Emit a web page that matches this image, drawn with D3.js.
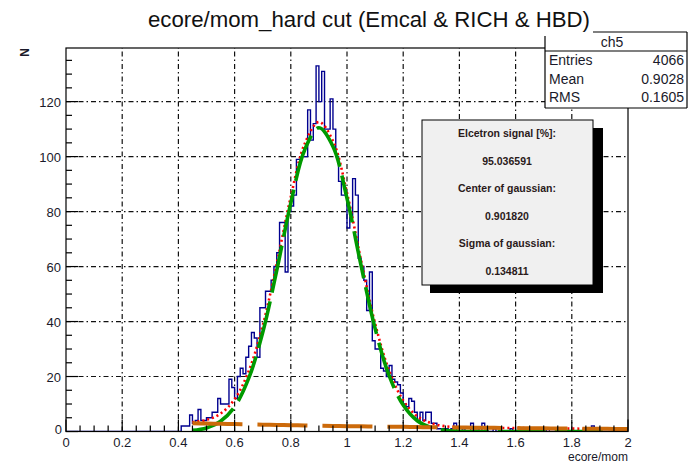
<!DOCTYPE html>
<html><head><meta charset="utf-8">
<script src="https://cdn.jsdelivr.net/npm/d3@7"></script>
<style>
body{margin:0;background:#fff;}
svg{display:block;font-family:"Liberation Sans",Arial,sans-serif;}
</style></head>
<body><svg id="c" width="692" height="464"></svg>
<script>
// ---- data ----
const binStart = 0.40;
const binWidth = 0.01;
const counts = [
 0,2,2,2,6,3,4,8,4,4,            // 0.40-0.49
 5,5,7,7,12,10,10,10,19,16,      // 0.50-0.59
 12,20,23,21,27,31,36,34,27,45,  // 0.60-0.69
 45,51,51,55,60,65,76,76,58,80,  // 0.70-0.79
 82,86,99,99,100,100,117,106,112,133, // 0.80-0.89
 120,131,110,110,121,110,100,91,86,86, // 0.90-0.99
 74,78,92,86,63,60,55,44,58,33,  // 1.00-1.09
 30,30,23,22,20,24,19,18,17,14,  // 1.10-1.19
 10,9,12,11,7,4,7,4,7,7,         // 1.20-1.29
 3,3,1,1,1,1,0,1,3,0,            // 1.30-1.39
 0,1,0,0,3,1,1,0,3,1,            // 1.40-1.49
 0,0,1,0,0,0,0,0,1,0,            // 1.50-1.59
 0,0,0,0,1,0,0,0,0,0,            // 1.60-1.69
 0,1,0,0,0,0,0,1,0,0,            // 1.70-1.79
 0,0,0,0,0,0,0,2,0,0,            // 1.80-1.89
 0,0,0,0,0,0,0,0,0,0             // 1.90-1.99
];
const fitX = [0.45,0.50,0.55,0.60,0.65,0.70,0.75,0.80,0.85,0.90,0.95,1.00,1.05,1.10,1.15,1.20,1.25,1.30,1.35,1.40,1.45,1.50,1.55,1.60,1.65,1.70,1.75,1.80,1.85,1.90,1.95,2.00];
const gaussY = [0.4,1.3,3.7,9.0,19.3,36.0,58.6,83.1,102.6,110.5,103.7,84.8,60.4,37.5,20.3,9.6,3.9,1.4,0.4,0.1,0,0,0,0,0,0,0,0,0,0,0,0];
const bgY = [3.0,2.9,2.8,2.7,2.6,2.5,2.4,2.3,2.2,2.1,2.0,1.95,1.9,1.8,1.75,1.7,1.6,1.55,1.5,1.45,1.4,1.35,1.3,1.25,1.2,1.15,1.1,1.05,1.0,1.0,0.95,0.9];
const totalY = [3.4,4.2,6.5,11.7,21.9,38.5,61.0,85.4,104.8,112.6,105.7,86.8,62.3,39.3,22.1,11.3,5.5,3.0,1.9,1.6,1.4,1.35,1.3,1.25,1.2,1.15,1.1,1.05,1.0,1.0,0.95,0.9];
const xTicks = [0,0.2,0.4,0.6,0.8,1,1.2,1.4,1.6,1.8,2];
const yTicks = [0,20,40,60,80,100,120];
const titleText = "ecore/mom_hard cut (Emcal & RICH & HBD)";
const statsName = "ch5";
const statsRows = [["Entries","4066"],["Mean","0.9028"],["RMS","0.1605"]];
const fitLines = ["Elcetron signal [%]:","95.036591","Center of gaussian:","0.901820","Sigma of gaussian:","0.134811"];

// ---- layout ----
const L=66,R=628,T=48,B=431.5;
const svg=d3.select("#c");
const x=d3.scaleLinear().domain([0,2]).range([L,R]);
const y=d3.scaleLinear().domain([0,139.5]).range([B,T]);

svg.append("defs").append("clipPath").attr("id","clip")
  .append("rect").attr("x",L).attr("y",T).attr("width",R-L).attr("height",B-T);

// grid
const grid=svg.append("g").attr("stroke","#111").attr("stroke-width",1.2).attr("stroke-dasharray","5,3,1.5,3");
xTicks.slice(1,-1).forEach(v=>grid.append("line").attr("x1",x(v)).attr("x2",x(v)).attr("y1",B).attr("y2",T));
yTicks.slice(1).forEach(v=>grid.append("line").attr("x1",L).attr("x2",R).attr("y1",y(v)).attr("y2",y(v)));

// histogram step outline
const pts=[];
const nb=Math.round(2/binWidth);
for(let i=0;i<nb;i++){
  const lo=i*binWidth;
  const idx=Math.round((lo-binStart)/binWidth);
  const c=(idx>=0&&idx<counts.length)?counts[idx]:0;
  pts.push([lo,c]);
}
pts.push([2,0]);
const step=d3.line().x(d=>x(d[0])).y(d=>y(d[1])).curve(d3.curveStepAfter);
const plot=svg.append("g").attr("clip-path","url(#clip)");
plot.append("path").attr("d",step(pts)).attr("fill","none").attr("stroke","#00008f").attr("stroke-width",1.4);

// fit curves
const mk=(ys)=>d3.line().x((d,i)=>x(fitX[i])).y(d=>y(d)).curve(d3.curveCatmullRom.alpha(0.5))(ys);
plot.append("path").attr("d",mk(totalY)).attr("fill","none").attr("stroke","#ff0000").attr("stroke-width",2.6).attr("stroke-dasharray","2,3");
plot.append("path").attr("d",mk(gaussY)).attr("fill","none").attr("stroke","#009a00").attr("stroke-width",3.6).attr("stroke-dasharray","48,9");
plot.append("path").attr("d",mk(bgY)).attr("fill","none").attr("stroke","#cc6a0a").attr("stroke-width",4).attr("stroke-dasharray","50,15");

// frame
svg.append("rect").attr("x",L).attr("y",T).attr("width",R-L).attr("height",B-T).attr("fill","none").attr("stroke","#000").attr("stroke-width",1.2);

// axis ticks
const ax=svg.append("g").attr("stroke","#000").attr("stroke-width",1.2);
for(let k=0;k<=40;k++){
  const v=k*0.05; const major=(k%4===0);
  ax.append("line").attr("x1",x(v)).attr("x2",x(v)).attr("y1",B).attr("y2",B-(major?12:6));
}
for(let k=0;k<=27;k++){
  const v=k*5; const major=(k%4===0);
  ax.append("line").attr("x1",L).attr("x2",L+(major?12:6)).attr("y1",y(v)).attr("y2",y(v));
}
// tick labels
svg.append("g").selectAll("text").data(xTicks).join("text")
  .attr("x",d=>x(d)).attr("y",447).attr("text-anchor","middle").attr("font-size",13).attr("fill","#1a1a2a")
  .text(d=>d3.format("~g")(d));
svg.append("g").selectAll("text").data(yTicks).join("text")
  .attr("x",d=>d===0?62:61).attr("y",d=>y(d)+ (d===0?2:5)).attr("text-anchor","end").attr("font-size",13).attr("fill","#1a1a2a")
  .text(d=>d);
svg.append("text").attr("x",628).attr("y",461).attr("text-anchor","end").attr("font-size",12).attr("fill","#1a1a2a").text("ecore/mom");
svg.append("text").attr("transform","translate(29,48) rotate(-90)").attr("text-anchor","end").attr("font-size",12).attr("font-weight","bold").attr("fill","#1a1a2a").text("N");

// stats box
const sb=svg.append("g");
sb.append("rect").attr("x",545).attr("y",32).attr("width",142).attr("height",76).attr("fill","#fff").attr("stroke","none");
sb.append("line").attr("x1",593).attr("x2",687).attr("y1",32).attr("y2",32).attr("stroke","#000").attr("stroke-width",1.2);
sb.append("line").attr("x1",545).attr("x2",545).attr("y1",36).attr("y2",108).attr("stroke","#000").attr("stroke-width",1.2);
sb.append("line").attr("x1",687).attr("x2",687).attr("y1",32).attr("y2",108).attr("stroke","#000").attr("stroke-width",1.2);
sb.append("line").attr("x1",545).attr("x2",687).attr("y1",108).attr("y2",108).attr("stroke","#000").attr("stroke-width",1.2);
sb.append("line").attr("x1",545).attr("x2",687).attr("y1",51).attr("y2",51).attr("stroke","#000").attr("stroke-width",1.2);
sb.append("text").attr("x",612).attr("y",47).attr("text-anchor","middle").attr("font-size",14).attr("fill","#1a1a2a").text(statsName);
statsRows.forEach((r,i)=>{
  const yy=65+i*18.5;
  sb.append("text").attr("x",549).attr("y",yy).attr("font-size",14).attr("fill","#1a1a2a").text(r[0]);
  sb.append("text").attr("x",684).attr("y",yy).attr("text-anchor","end").attr("font-size",14).attr("fill","#1a1a2a").text(r[1]);
});
// title
svg.append("text").attr("x",369).attr("y",27).attr("text-anchor","middle").attr("font-size",22).attr("fill","#111")
  .attr("textLength",442).attr("lengthAdjust","spacingAndGlyphs").text(titleText);

// fit text box
const tb=svg.append("g");
tb.append("rect").attr("x",430).attr("y",128).attr("width",173).attr("height",165).attr("fill","#000");
tb.append("rect").attr("x",422).attr("y",120).attr("width",171).attr("height",165).attr("fill","#f0f0f0").attr("stroke","#000").attr("stroke-width",1);
fitLines.forEach((t,i)=>{
  tb.append("text").attr("x",507).attr("y",120+27.5*(i+0.5)+3.5).attr("text-anchor","middle")
    .attr("font-size",10.5).attr("font-weight","bold").attr("fill","#2a1a1a").text(t);
});
</script></body></html>
